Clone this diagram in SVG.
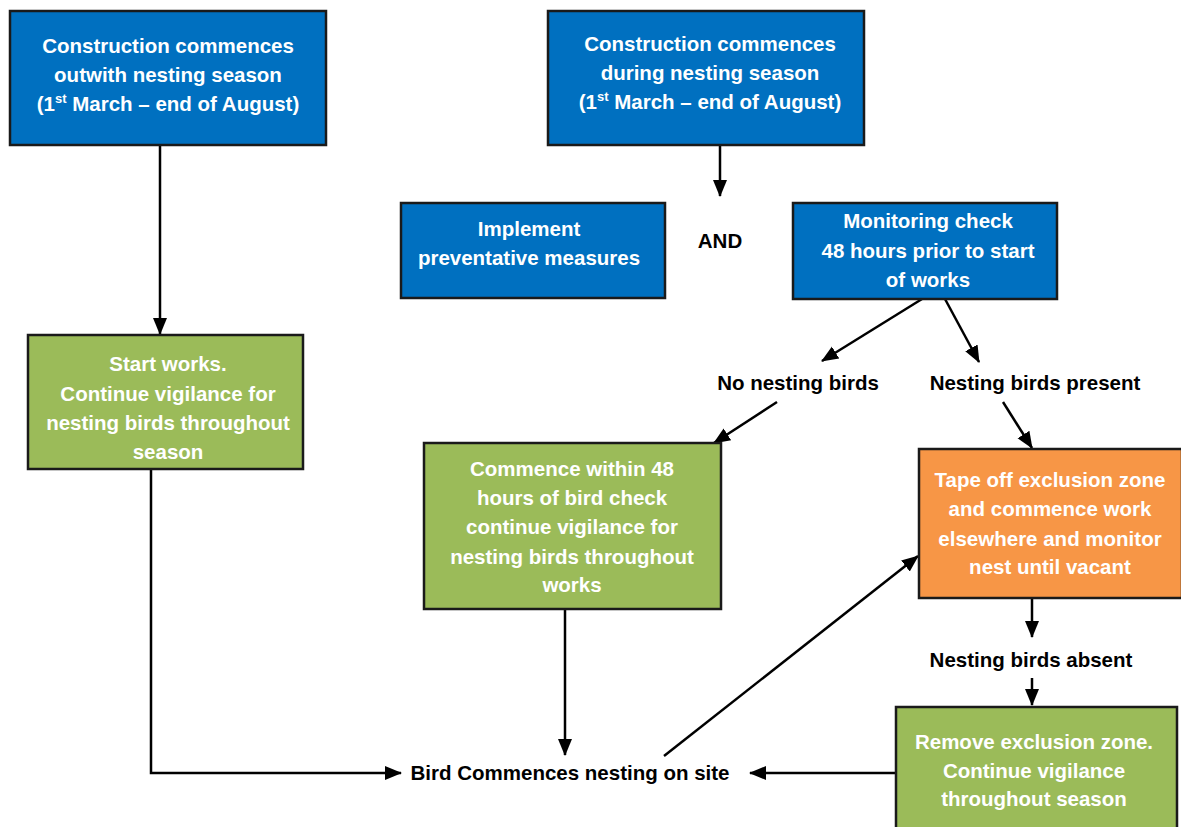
<svg xmlns="http://www.w3.org/2000/svg" width="1181" height="827" viewBox="0 0 1181 827">
<style>
.box{stroke:#1a1a1a;stroke-width:2.5}
.blue{fill:#0070C0}
.green{fill:#9BBB59}
.orange{fill:#F79646}
text{font-family:"Liberation Sans",Arial,sans-serif;font-weight:bold;font-size:20.5px;text-anchor:middle}
.w{fill:#ffffff}
.k{fill:#000000}
.sup{font-size:13px}
.con{stroke:#000;stroke-width:2.5;fill:none}
</style>
<defs>
<marker id="ah" markerUnits="userSpaceOnUse" markerWidth="17" markerHeight="17" viewBox="0 0 17 17" refX="16" refY="8.5" orient="auto">
<path d="M0,1.5 L17,8.5 L0,15.5 Z" fill="#000"/>
</marker>
</defs>
<rect width="1181" height="827" fill="#fff"/>
<g id="connectors">
<line class="con" x1="160" y1="145" x2="160" y2="334" marker-end="url(#ah)"/>
<line class="con" x1="720" y1="145" x2="720" y2="196" marker-end="url(#ah)"/>
<line class="con" x1="922" y1="299" x2="822" y2="361" marker-end="url(#ah)"/>
<line class="con" x1="945" y1="299" x2="979" y2="362" marker-end="url(#ah)"/>
<line class="con" x1="777" y1="402" x2="714" y2="443" marker-end="url(#ah)"/>
<line class="con" x1="1003" y1="402" x2="1032" y2="448" marker-end="url(#ah)"/>
<line class="con" x1="1032" y1="598" x2="1032" y2="637" marker-end="url(#ah)"/>
<line class="con" x1="1032" y1="678" x2="1032" y2="705" marker-end="url(#ah)"/>
<line class="con" x1="896" y1="773" x2="750" y2="773" marker-end="url(#ah)"/>
<polyline class="con" points="151,469 151,773 401,773" marker-end="url(#ah)"/>
<line class="con" x1="565" y1="609" x2="565" y2="755" marker-end="url(#ah)"/>
<line class="con" x1="664" y1="756" x2="918" y2="556" marker-end="url(#ah)"/>
</g>
<g id="n-outwith">
<rect class="box blue" x="10" y="11" width="316" height="134"/>
<text class="w" x="168" y="53">Construction commences</text>
<text class="w" x="168" y="82">outwith nesting season</text>
<text class="w" x="168" y="111">(1<tspan class="sup" dy="-8">st</tspan><tspan dy="8"> March – end of August)</tspan></text>
</g>
<g id="n-during">
<rect class="box blue" x="548" y="11" width="316" height="134"/>
<text class="w" x="710" y="51">Construction commences</text>
<text class="w" x="710" y="80">during nesting season</text>
<text class="w" x="710" y="109">(1<tspan class="sup" dy="-8">st</tspan><tspan dy="8"> March – end of August)</tspan></text>
</g>
<g id="n-implement">
<rect class="box blue" x="401" y="203" width="264" height="95"/>
<text class="w" x="529" y="236">Implement</text>
<text class="w" x="529" y="265">preventative measures</text>
</g>
<g id="n-and">
<text class="k" x="720" y="248">AND</text>
</g>
<g id="n-monitoring">
<rect class="box blue" x="793" y="203" width="264" height="96"/>
<text class="w" x="928" y="228">Monitoring check</text>
<text class="w" x="928" y="258">48 hours prior to start</text>
<text class="w" x="928" y="287">of works</text>
</g>
<g id="n-nonesting">
<text class="k" x="798" y="390">No nesting birds</text>
</g>
<g id="n-present">
<text class="k" x="1035" y="390">Nesting birds present</text>
</g>
<g id="n-startworks">
<rect class="box green" x="28" y="335" width="275" height="134"/>
<text class="w" x="168" y="371">Start works.</text>
<text class="w" x="168" y="401">Continue vigilance for</text>
<text class="w" x="168" y="430">nesting birds throughout</text>
<text class="w" x="168" y="459">season</text>
</g>
<g id="n-commence48">
<rect class="box green" x="424" y="443" width="297" height="166"/>
<text class="w" x="572" y="476">Commence within 48</text>
<text class="w" x="572" y="505">hours of bird check</text>
<text class="w" x="572" y="534">continue vigilance for</text>
<text class="w" x="572" y="564">nesting birds throughout</text>
<text class="w" x="572" y="592">works</text>
</g>
<g id="n-tape">
<rect class="box orange" x="919" y="449" width="263" height="149"/>
<text class="w" x="1050" y="487">Tape off exclusion zone</text>
<text class="w" x="1050" y="516">and commence work</text>
<text class="w" x="1050" y="546">elsewhere and monitor</text>
<text class="w" x="1050" y="574">nest until vacant</text>
</g>
<g id="n-absent">
<text class="k" x="1031" y="667">Nesting birds absent</text>
</g>
<g id="n-remove">
<rect class="box green" x="896" y="707" width="281" height="130"/>
<text class="w" x="1034" y="749">Remove exclusion zone.</text>
<text class="w" x="1034" y="778">Continue vigilance</text>
<text class="w" x="1034" y="806">throughout season</text>
</g>
<g id="n-birdcommences">
<text class="k" x="570" y="780">Bird Commences nesting on site</text>
</g>
</svg>
